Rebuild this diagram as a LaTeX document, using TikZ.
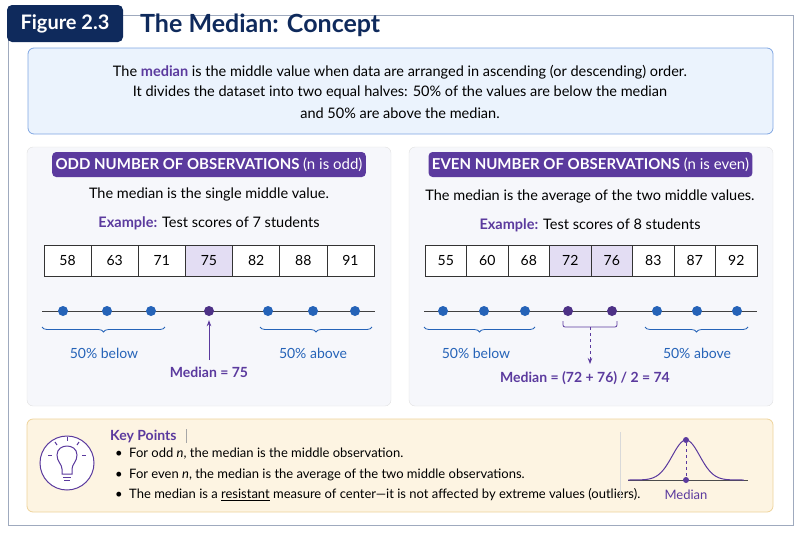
\documentclass[tikz,border=0pt]{standalone}
\usepackage{fontspec}
\setmainfont{Lato}
\usetikzlibrary{decorations.pathreplacing,arrows.meta}
\definecolor{navy}{HTML}{0F2A5C}
\definecolor{purp}{HTML}{5B3A9E}
\definecolor{bl}{HTML}{2563B8}
\definecolor{lpurp}{HTML}{E3DDF3}
\definecolor{introbg}{HTML}{EBF3FD}
\definecolor{introbd}{HTML}{7FA6E2}
\definecolor{keybg}{HTML}{FDF4E2}
\definecolor{keybd}{HTML}{EED39A}
\definecolor{panelbg}{HTML}{F6F7FB}
\tikzset{
 txt/.style={font=\fontsize{14.5}{17}\selectfont, inner sep=0pt},
 cell/.style={draw=black!80, line width=0.6pt, minimum height=31pt, inner sep=0pt, font=\fontsize{14}{16}\selectfont},
 dotb/.style={circle, fill=bl, minimum size=10pt, inner sep=0pt},
 dotp/.style={circle, fill=purp!85!black, minimum size=10pt, inner sep=0pt},
 brc/.style={decorate, decoration={brace, mirror, amplitude=5pt}, draw=bl, line width=0.8pt},
 banner/.style={fill=purp, rounded corners=4pt, text=white, font=\bfseries\fontsize{15}{17}\selectfont, minimum height=25pt},
 panel/.style={fill=panelbg, draw=black!12, rounded corners=6pt},
 blab/.style={text=bl, font=\fontsize{14}{16}\selectfont, inner sep=0pt},
}
\begin{document}
\begin{tikzpicture}[x=1pt,y=-1pt]
\useasboundingbox (0,0) rectangle (800,533);
\draw[draw=navy!40, line width=0.8pt] (8,15) rectangle (793,525);
\node[fill=navy, rounded corners=5pt, text=white, font=\bfseries\fontsize{20}{22}\selectfont, minimum width=116pt, minimum height=37pt] (tag) at (65,23.5) {Figure 2.3};
\node[anchor=west, text=navy, font=\bfseries\fontsize{25}{28}\selectfont, inner sep=0pt] (title) at (140,25) {The Median: Concept};
% intro
\draw[fill=introbg, draw=introbd, rounded corners=6pt, line width=0.8pt] (28,48) rectangle (773,134);
\node[txt] (i1) at (400,72) {The \textcolor{purp}{\bfseries median} is the middle value when data are arranged in ascending (or descending) order.};
\node[txt] (i2) at (400,92) {It divides the dataset into two equal halves: 50\% of the values are below the median};
\node[txt] (i3) at (400,113) {and 50\% are above the median.};
% panels
\draw[panel] (27,147) rectangle (391,406);
\draw[panel] (409,147) rectangle (773,406);
\node[banner, minimum width=306pt] (b1) at (209,164.5) {ODD NUMBER OF OBSERVATIONS \mdseries(n is odd)};
\node[banner, minimum width=315pt] (b2) at (590.5,164.5) {EVEN NUMBER OF OBSERVATIONS \mdseries(n is even)};
\node[txt] (s1) at (209,194) {The median is the single middle value.};
\node[txt] (s2) at (590,196) {The median is the average of the two middle values.};
\node[txt] (e1) at (209,223) {\textcolor{purp}{\bfseries Example:} Test scores of 7 students};
\node[txt] (e2) at (590,225) {\textcolor{purp}{\bfseries Example:} Test scores of 8 students};
% tables
\foreach \v [count=\i] in {58,63,71,75,82,88,91}{
  \pgfmathsetmacro{\cx}{44+47.14*(\i-0.5)}
  \ifnum\i=4 \node[cell, fill=lpurp, minimum width=47.14pt] (L\i) at (\cx,260.5) {\v};
  \else \node[cell, fill=white, minimum width=47.14pt] (L\i) at (\cx,260.5) {\v}; \fi
}
\foreach \v [count=\i] in {55,60,68,72,76,83,87,92}{
  \pgfmathsetmacro{\cx}{425+41.5*(\i-0.5)}
  \ifnum\i=4 \node[cell, fill=lpurp, minimum width=41.5pt] (R\i) at (\cx,260.5) {\v};
  \else\ifnum\i=5 \node[cell, fill=lpurp, minimum width=41.5pt] (R\i) at (\cx,260.5) {\v};
  \else \node[cell, fill=white, minimum width=41.5pt] (R\i) at (\cx,260.5) {\v}; \fi\fi
}
% left number line
\draw[black!75, line width=0.8pt] (42,311) -- (375,311);
\foreach \x [count=\i] in {63,107,151,268,313,355} \node[dotb] (ld\i) at (\x,311) {};
\node[dotp] (lm) at (209,311) {};
\draw[brc] (42,327) -- (165,327);
\draw[brc] (260,327) -- (372,327);
\node[blab] (lbl1) at (104,353) {50\% below};
\node[blab] (lbl2) at (313,353) {50\% above};
\node[text=purp, font=\bfseries\fontsize{14}{16}\selectfont, inner sep=0pt] (lmed) at (209,372) {Median = 75};
\coordinate (lt) at (209,360);
\draw[purp, line width=0.9pt, -{Stealth[length=6pt]}] (lt) -- ([yshift=-4pt]lm.south);
% right number line
\draw[black!75, line width=0.8pt] (424,311) -- (757,311);
\foreach \x [count=\i] in {443,484,525,657,697,737} \node[dotb] (rd\i) at (\x,311) {};
\node[dotp] (rm1) at (568,311) {};
\node[dotp] (rm2) at (612,311) {};
\draw[brc] (424,327) -- (535,327);
\draw[brc] (645,327) -- (748,327);
\node[blab] (rbl1) at (476,353) {50\% below};
\node[blab] (rbl2) at (697,353) {50\% above};
\draw[purp, line width=0.8pt, rounded corners=2pt] (563,321) -- (563,327) -- (617,327) -- (617,321);
\coordinate (rb) at (590,327);
\draw[purp, line width=0.8pt, dashed, -{Stealth[length=6pt]}] (rb) -- (590,364);
\node[text=purp, font=\bfseries\fontsize{14}{16}\selectfont, inner sep=0pt] (rmed) at (585,378) {Median = (72 + 76) / 2 = 74};
% key points
\draw[fill=keybg, draw=keybd, rounded corners=6pt, line width=0.8pt] (27,419) rectangle (773,512);
\draw[purp, line width=1pt, fill=white] (67,463) circle (27);
\begin{scope}[purp, line width=1pt]
 \draw (62,474) -- (62,469) .. controls (62,464) and (57,462) .. (57,455) .. controls (57,449) and (62,446) .. (67,446) .. controls (72,446) and (77,449) .. (77,455) .. controls (77,462) and (72,464) .. (72,469) -- (72,474) -- cycle;
 \draw (63,477) -- (71,477); \draw (64,480) -- (70,480);
 \draw (67,437) -- (67,441); \draw (55,442) -- (57,445); \draw (79,442) -- (77,445);
 \draw (48,455) -- (52,455); \draw (82,455) -- (86,455);
\end{scope}
\node[anchor=west, text=purp, font=\bfseries\fontsize{14}{16}\selectfont, inner sep=0pt] (kp) at (110,436) {Key Points};
\draw[black!35] (186,429) -- (186,443);
\begin{scope}[every node/.style={anchor=west, inner sep=0pt, font=\fontsize{13}{15}\selectfont}]
\node (k1) at (115,454) {\textbullet\enspace For odd \textit{n}, the median is the middle observation.};
\node (k2) at (115,475) {\textbullet\enspace For even \textit{n}, the median is the average of the two middle observations.};
\node (k3) at (115,495) {\textbullet\enspace The median is a \underline{resistant} measure of center---it is not affected by extreme values (outliers).};
\end{scope}
\draw[black!15] (620,432) -- (620,500);
\draw[black!70, line width=0.8pt] (628,480) -- (748,480);
\draw[purp, line width=1pt, domain=-1:1, samples=60] plot ({686+58*\x},{480-40*exp(-(\x*\x)*9)});
\node[circle, fill=purp, inner sep=0pt, minimum size=6pt] (pk) at (686,440) {};
\node[circle, fill=purp, inner sep=0pt, minimum size=6pt] (bs) at (686,480) {};
\draw[purp, dashed, line width=0.8pt] (pk) -- (bs);
\node[text=purp, font=\fontsize{13}{15}\selectfont, inner sep=0pt] (ml) at (686,495) {Median};
\end{tikzpicture}
\end{document}
